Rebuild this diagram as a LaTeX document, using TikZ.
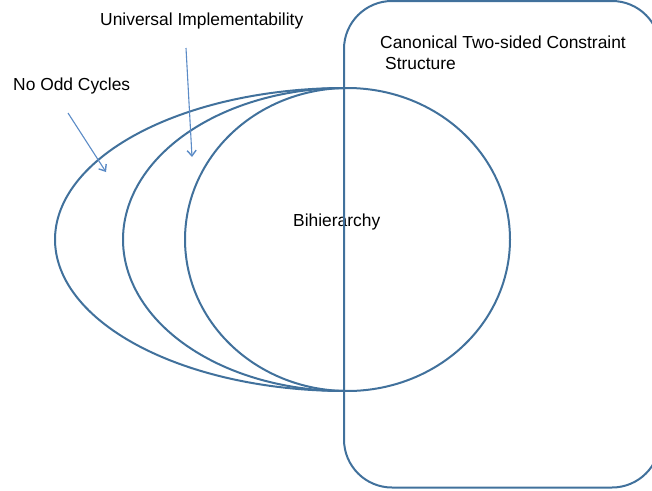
\documentclass[tikz,border=0pt]{standalone}
\usepackage{fontspec}
\setmainfont{Liberation Sans}
\usetikzlibrary{arrows.meta}
\definecolor{shapeblue}{HTML}{41719C}
\definecolor{arrowblue}{HTML}{5B8BC6}
\begin{document}
\begin{tikzpicture}[x=1pt,y=-1pt,
  shape line/.style={draw=shapeblue,line width=2pt},
  pointer/.style={draw=arrowblue,line width=1.1pt,-{Straight Barb[length=5.5pt,width=9pt,line width=1.4pt]}},
  label text/.style={anchor=base west,inner sep=0pt,font=\fontsize{17.4}{20.7}\selectfont,text=black,align=left}]
\useasboundingbox (0,0) rectangle (652,490);
% texts
\node[label text] (ui) at (100,25.5) {Universal Implementability};
\node[label text] (noc) at (13,90.5) {No Odd Cycles};
\node[label text] (ctc) at (380,48.3) {Canonical Two-sided Constraint};
\node[label text] (str) at (385,69) {Structure};
\node[label text] (bih) at (293,226.5) {Bihierarchy};
% nested shapes
\draw[shape line] plot[domain=90:270,samples=120] ({345+290*cos(\x)},{239.5+151.5*sin(\x)});
\draw[shape line] plot[domain=90:270,samples=120] ({345+222*cos(\x)},{239.5+151.5*sin(\x)});
\draw[shape line] plot[domain=0:360,samples=200] ({347.5+162.5*cos(\x)},{239.5+151.5*sin(\x)}) -- cycle;
\draw[shape line,rounded corners=48pt] (344,1) rectangle (660,487.5);
% pointers
\coordinate (a1s) at (68,113);
\coordinate (a1e) at (106,172);
\coordinate (a2s) at (186,48);
\coordinate (a2e) at (192,157);
\draw[pointer] (a1s) -- (a1e);
\draw[pointer] (a2s) -- (a2e);
\end{tikzpicture}
\end{document}
